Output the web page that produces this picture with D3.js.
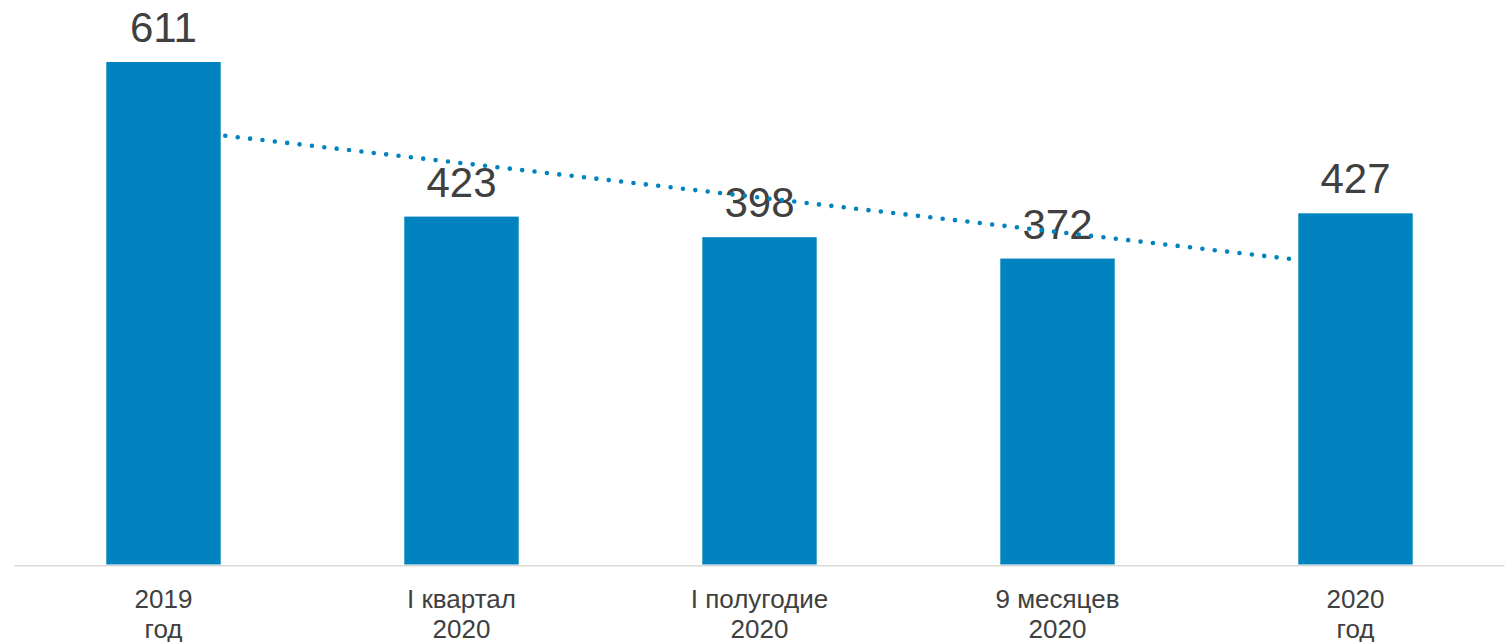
<!DOCTYPE html>
<html>
<head>
<meta charset="utf-8">
<script src="https://cdn.jsdelivr.net/npm/d3@7"></script>
<style>
  html, body { margin: 0; padding: 0; background: #ffffff; }
  svg { display: block; }
</style>
</head>
<body>
<svg id="chart" width="1509" height="642"></svg>
<script>
const categories = ["2019|год", "I квартал|2020", "I полугодие|2020", "9 месяцев|2020", "2020|год"];
const values = [611, 423, 398, 372, 427];

const W = 1509, H = 642;
const baseY = 564.5;
const svg = d3.select("#chart");

const x = d3.scaleBand()
  .domain(categories)
  .range([14.5, 1504.5])
  .paddingInner(0.616)
  .paddingOuter(0.308);

const y = d3.scaleLinear()
  .domain([0, d3.max(values)])
  .range([baseY, 62]);

const blue = "#0083BE";
const font = "'Liberation Sans', Arial, sans-serif";

// axis line
svg.append("line")
  .attr("x1", x.range()[0]).attr("x2", x.range()[1])
  .attr("y1", baseY + 1.25).attr("y2", baseY + 1.25)
  .attr("stroke", "#d9d9d9").attr("stroke-width", 1.6);

// value labels (drawn beneath the trendline)
svg.append("g").selectAll("text")
  .data(values)
  .join("text")
  .attr("x", (d, i) => x(categories[i]) + x.bandwidth() / 2)
  .attr("y", d => y(d) - 20)
  .attr("text-anchor", "middle")
  .attr("font-family", font)
  .attr("font-size", 42)
  .attr("fill", "#404040")
  .text(d => d);

// linear trendline (least squares over category index)
const n = values.length;
const idx = d3.range(1, n + 1);
const mx = d3.mean(idx), my = d3.mean(values);
const slope = d3.sum(idx, (k, i) => (k - mx) * (values[i] - my)) / d3.sum(idx, k => (k - mx) ** 2);
const intercept = my - slope * mx;
const trend = [1, n].map(k => ({ cx: x(categories[k - 1]) + x.bandwidth() / 2, v: intercept + slope * k }));

svg.append("path")
  .datum(trend)
  .attr("d", d3.line().x(d => d.cx).y(d => y(d.v)))
  .attr("fill", "none")
  .attr("stroke", blue)
  .attr("stroke-width", 4.6)
  .attr("stroke-linecap", "round")
  .attr("stroke-dasharray", "0 12.45");

// bars
svg.append("g").selectAll("rect")
  .data(values)
  .join("rect")
  .attr("x", (d, i) => x(categories[i]))
  .attr("width", x.bandwidth())
  .attr("y", d => y(d))
  .attr("height", d => baseY - y(d))
  .attr("fill", blue);

// category labels
const lab = svg.append("g").selectAll("text")
  .data(categories)
  .join("text")
  .attr("text-anchor", "middle")
  .attr("font-family", font)
  .attr("font-size", 26)
  .attr("fill", "#404040");
lab.each(function(c) {
  const cx = x(c) + x.bandwidth() / 2;
  const lines = c.split("|");
  d3.select(this).selectAll("tspan")
    .data(lines)
    .join("tspan")
    .attr("x", cx)
    .attr("y", (l, i) => 607.5 + i * 30.8)
    .text(l => l);
});
</script>
</body>
</html>
